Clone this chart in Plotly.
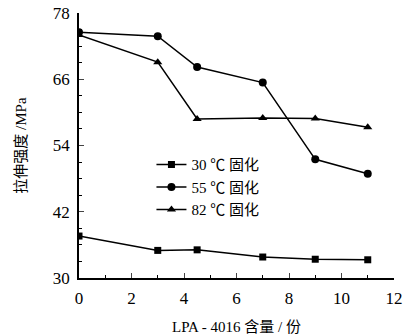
import plotly.graph_objects as go

x_vals = [0, 3, 4.5, 7, 9, 11]
y_30 = [37.6, 35.0, 35.1, 33.8, 33.4, 33.3]
y_55 = [74.5, 73.8, 68.2, 65.4, 51.5, 48.9]
y_82 = [74.0, 69.1, 58.8, 59.0, 58.9, 57.3]
names = ["30 ℃ 固化", "55 ℃ 固化", "82 ℃ 固化"]
x_ticks = [0, 2, 4, 6, 8, 10, 12]
y_ticks = [30, 42, 54, 66, 78]

FONT = "Liberation Serif, Noto Sans CJK SC, serif"

fig = go.Figure()
for yv, nm, sym, sz in [(y_30, names[0], "square", 7),
                         (y_55, names[1], "circle", 8),
                         (y_82, names[2], "triangle-up", 8)]:
    fig.add_trace(go.Scatter(x=x_vals, y=yv, name=nm, mode="lines+markers",
                             line=dict(color="black", width=1.5),
                             marker=dict(symbol=sym, size=sz, color="black")))

fig.update_layout(
    width=412, height=335,
    margin=dict(l=79, r=18, t=13, b=57),
    paper_bgcolor="white", plot_bgcolor="white",
    font=dict(family=FONT, color="black", size=16),
    showlegend=True,
    legend=dict(x=0.23, y=0.49, xanchor="left", yanchor="top",
                bgcolor="rgba(0,0,0,0)", font=dict(size=15, family=FONT),
                tracegroupgap=0, itemwidth=30),
)
fig.update_xaxes(range=[0, 12], tickvals=x_ticks, ticks="inside", ticklen=5,
                 showline=True, linecolor="black", linewidth=1.5, showgrid=False,
                 zeroline=False, tickfont=dict(size=17), ticklabelstandoff=4,
                 automargin=False,
                 minor=dict(dtick=1, ticks="inside", ticklen=3, tickcolor="black"),
                 title=dict(text="LPA - 4016 含量 / 份", font=dict(size=15), standoff=15))
fig.update_yaxes(range=[30, 78], tickvals=y_ticks, ticks="inside", ticklen=5,
                 showline=True, linecolor="black", linewidth=1.5, showgrid=False,
                 zeroline=False, tickfont=dict(size=17), ticklabelstandoff=4,
                 automargin=False,
                 minor=dict(dtick=3, ticks="inside", ticklen=3, tickcolor="black"),
                 title=dict(text="拉伸强度 /MPa", font=dict(size=15), standoff=23))

fig.write_html("out.html")
